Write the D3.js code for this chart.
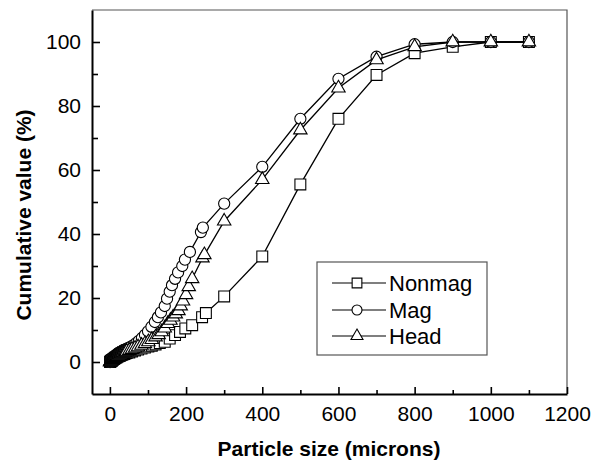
<!DOCTYPE html>
<html>
<head>
<meta charset="utf-8">
<script src="https://cdn.jsdelivr.net/npm/d3@7"></script>
<style>
  body{margin:0;background:#fff;}
  svg{font-family:"Liberation Sans",Arial,sans-serif;}
</style>
</head>
<body>
<div id="chart"></div>
<script>
// ---- data ----
const seriesNames=["Nonmag","Mag","Head"];

const nonmagX=[0.5,1,2,3,4,5,6,8,10,11,13,14,16,18,20,22,25,27,30,32,35,38,41,44,51,58,66,74,83,92,101,110,120,131,144,157,171,184,198,216,242,252,300,400,500,600,700,800,900,1000,1100];
const nonmagY=[0,0.1,0.2,0.3,0.4,0.5,0.6,0.8,0.9,1.0,1.2,1.3,1.4,1.5,1.7,1.8,1.9,2.0,2.2,2.3,2.4,2.5,2.7,2.8,3.0,3.3,3.6,3.9,4.2,4.5,4.8,5.1,5.5,5.9,6.3,7.3,8.4,9.4,10.5,11.5,14,15.3,20.5,33,55.5,76,89.7,96.5,98.5,100,100];

const magX=[0.5,1,2,3,4,5,6,8,10,11,13,14,16,18,20,22,24,26,28,31,34,36,39,42,48,55,62,69,76,84,92,100,109,118,126,134,144,150,157,163,171,179,190,197,210,239,244,300,400,500,600,700,800,900,1000,1100];
const magY=[0,0.1,0.3,0.4,0.6,0.8,1.0,1.2,1.4,1.6,1.8,2.0,2.2,2.4,2.6,2.8,2.9,3.1,3.2,3.4,3.6,3.7,3.9,4.0,4.4,4.8,5.3,5.9,6.6,7.5,8.5,9.6,11.0,12.5,14.0,15.5,17.5,19.8,22,24,26,28,30,32,34.4,40.6,42,49.5,61,76,88.5,95.4,99.3,100,100,100];

const headX=[0.5,1,2,3,4,5,6,8,10,11,13,14,16,18,20,22,25,27,30,32,35,38,41,44,51,58,66,74,83,92,101,110,120,128,136,144,152,159,166,173,180,186,192,200,207,216,243,248,300,400,500,600,700,800,900,1000,1100];
const headY=[0,0.1,0.2,0.3,0.5,0.6,0.7,0.9,1.1,1.2,1.4,1.5,1.7,1.8,2.0,2.1,2.3,2.4,2.6,2.7,2.9,3.0,3.2,3.3,3.6,3.9,4.3,4.7,5.2,5.7,6.3,7.0,7.8,8.5,9.4,10.6,12,13,14,15,16,17.5,19,21,23.5,26,32.5,33.5,44,57,72.5,85.6,94.4,98.5,100,100,100];

const xTicks=[0,200,400,600,800,1000,1200];
const xMinor=[100,300,500,700,900,1100];
const yTicks=[0,20,40,60,80,100];
const yMinor=[10,30,50,70,90];

// ---- layout ----
let width=600;
let height=465;
let plot={left:92,right:567,top:10,bottom:394};

let svg=d3.select("#chart")
  .append("svg")
  .attr("width",width)
  .attr("height",height);

let xScale=d3.scaleLinear().domain([-47,1200]).range([plot.left,plot.right]);
let yScale=d3.scaleLinear().domain([-10,110]).range([plot.bottom,plot.top]);

// frame top/right (thin, greyish)
svg.append("path")
  .attr("d","M"+plot.left+","+plot.top+"H"+plot.right+"V"+plot.bottom)
  .attr("fill","none")
  .attr("stroke","#555")
  .attr("stroke-width",1.2);

// x axis
let xAxis=d3.axisBottom(xScale)
  .tickValues(xTicks)
  .tickSize(-7)
  .tickSizeOuter(0)
  .tickPadding(12)
  .tickFormat(d3.format("d"));
let gx=svg.append("g")
  .attr("transform","translate(0,"+plot.bottom+")")
  .call(xAxis);
gx.append("g")
  .call(d3.axisBottom(xScale).tickValues(xMinor).tickSize(-4).tickSizeOuter(0).tickFormat(""))
  .select(".domain").remove();

// y axis
let yAxis=d3.axisLeft(yScale)
  .tickValues(yTicks)
  .tickSize(-8)
  .tickSizeOuter(0)
  .tickPadding(11);
let gy=svg.append("g")
  .attr("transform","translate("+plot.left+",0)")
  .call(yAxis);
gy.append("g")
  .call(d3.axisLeft(yScale).tickValues(yMinor).tickSize(-6).tickSizeOuter(0).tickFormat(""))
  .select(".domain").remove();

svg.selectAll(".domain").attr("stroke","#000").attr("stroke-width",2);
svg.selectAll(".tick line").attr("stroke","#000").attr("stroke-width",1.6);
svg.selectAll(".tick text")
  .attr("fill","#000")
  .attr("font-size","21px")
  .attr("font-family","Liberation Sans, Arial, sans-serif");

// axis titles
svg.append("text")
  .attr("x",329)
  .attr("y",456)
  .attr("text-anchor","middle")
  .attr("font-size","21px")
  .attr("font-weight","bold")
  .text("Particle size (microns)");

svg.append("text")
  .attr("transform","translate(31,"+215+") rotate(-90)")
  .attr("text-anchor","middle")
  .attr("font-size","21px")
  .attr("font-weight","bold")
  .text("Cumulative value (%)");

// ---- series ----
const symbols=[d3.symbolSquare,d3.symbolCircle,d3.symbolTriangle];
const symSize=[118,98,78];
const seriesData=[
  d3.zip(nonmagX,nonmagY),
  d3.zip(magX,magY),
  d3.zip(headX,headY)
];

let line=d3.line()
  .x((d)=>xScale(d[0]))
  .y((d)=>yScale(d[1]));

seriesData.forEach(function(data,i){
  let g=svg.append("g").attr("class","series");
  g.append("path")
    .datum(data)
    .attr("d",line)
    .attr("fill","none")
    .attr("stroke","#000")
    .attr("stroke-width",1.3);
  g.selectAll("path.mark")
    .data(data)
    .enter()
    .append("path")
    .attr("class","mark")
    .attr("transform",(d)=>"translate("+xScale(d[0])+","+yScale(d[1])+")")
    .attr("d",d3.symbol().type(symbols[i]).size(symSize[i]))
    .attr("fill","#fff")
    .attr("stroke","#000")
    .attr("stroke-width",1.1);
});

// ---- legend ----
let legend=svg.append("g");
legend.append("rect")
  .attr("x",317)
  .attr("y",262)
  .attr("width",170)
  .attr("height",93)
  .attr("fill","#fff")
  .attr("stroke","#555")
  .attr("stroke-width",1.2);

const legendY=[283,310,336];
seriesNames.forEach(function(name,i){
  legend.append("line")
    .attr("x1",332).attr("x2",386)
    .attr("y1",legendY[i]).attr("y2",legendY[i])
    .attr("stroke","#000")
    .attr("stroke-width",1.2);
  legend.append("path")
    .attr("transform","translate(357,"+legendY[i]+")")
    .attr("d",d3.symbol().type(symbols[i]).size(symSize[i]*0.8))
    .attr("fill","#fff")
    .attr("stroke","#000")
    .attr("stroke-width",1.1);
  legend.append("text")
    .attr("x",389)
    .attr("y",legendY[i])
    .attr("dy","0.35em")
    .attr("font-size","22px")
    .text(name);
});
</script>
</body>
</html>
